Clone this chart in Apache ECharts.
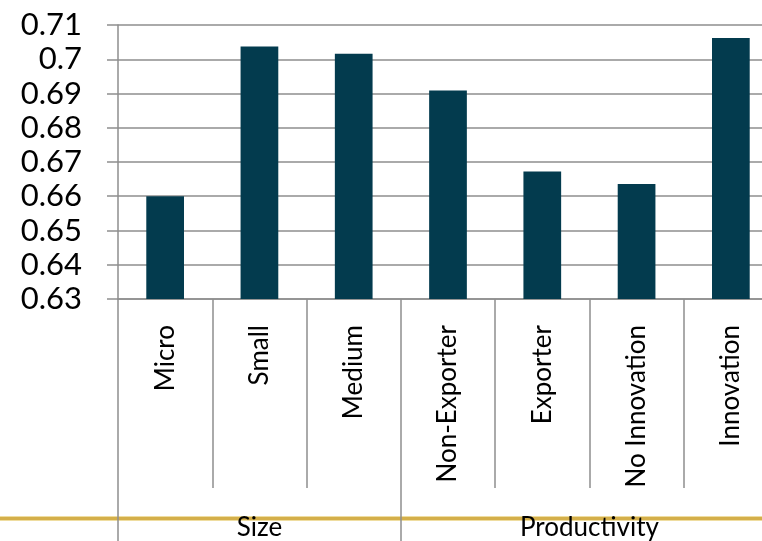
<!DOCTYPE html>
<html>
<head>
<meta charset="utf-8">
<script src="https://cdn.jsdelivr.net/npm/echarts@6/dist/echarts.min.js"></script>
<style>
  html, body { margin: 0; padding: 0; background: #ffffff; }
  #chart { width: 762px; height: 541px; }
</style>
</head>
<body>
<div id="chart"></div>
<script>
// Categories (bottom level) and their groups (top level)
const categories = ['Micro', 'Small', 'Medium', 'Non-Exporter', 'Exporter', 'No Innovation', 'Innovation'];
const values = [0.660, 0.7037, 0.7016, 0.6909, 0.6672, 0.6636, 0.7062];
const groupNames = ['Size', 'Productivity'];
const groupSizes = [3, 4];
const yTicks = { min: 0.63, max: 0.71, step: 0.01 };

// Group boundaries and centres in category units
const groupEdges = [0];
const groupCentres = [];
groupSizes.forEach(function (n, i) {
  groupCentres.push(groupEdges[i] + n / 2);
  groupEdges.push(groupEdges[i] + n);
});

const FONT = 'Lato';
const GRID_COLOR = '#8E8E8E';
const BAR_COLOR = '#033B4E';

const chart = echarts.init(document.getElementById('chart'), null, { renderer: 'canvas' });

chart.setOption({
  animation: false,
  backgroundColor: '#ffffff',
  grid: {
    left: 118,
    top: 25,
    width: 660,
    height: 274,
    containLabel: false,
    outerBoundsMode: 'none'
  },
  xAxis: [
    {
      type: 'category',
      data: categories,
      position: 'bottom',
      z: 5,
      axisLine: { show: true, lineStyle: { color: GRID_COLOR, width: 1.5 } },
      axisTick: { show: true, interval: 0, length: 189, lineStyle: { color: GRID_COLOR, width: 1.5 } },
      axisLabel: {
        interval: 0,
        rotate: 90,
        margin: 26,
        color: '#000000',
        fontFamily: FONT,
        fontSize: 26
      },
      splitLine: { show: false }
    },
    {
      type: 'value',
      min: 0,
      max: categories.length,
      position: 'bottom',
      gridIndex: 0,
      z: 5,
      axisLine: { show: false },
      axisTick: {
        show: true,
        length: 242,
        customValues: groupEdges,
        lineStyle: { color: GRID_COLOR, width: 1.5 }
      },
      axisLabel: {
        show: true,
        customValues: groupCentres,
        margin: 216,
        color: '#000000',
        fontFamily: FONT,
        fontSize: 26,
        verticalAlign: 'top',
        formatter: function (v) {
          const i = groupCentres.indexOf(v);
          return i >= 0 ? groupNames[i] : '';
        }
      },
      splitLine: { show: false }
    }
  ],
  yAxis: {
    type: 'value',
    min: yTicks.min,
    max: yTicks.max,
    interval: yTicks.step,
    z: 5,
    axisLine: { show: true, lineStyle: { color: GRID_COLOR, width: 1.5 } },
    axisTick: { show: true, length: 11, lineStyle: { color: GRID_COLOR, width: 1.5 } },
    axisLabel: {
      margin: 36,
      color: '#000000',
      fontFamily: FONT,
      fontSize: 31,
      formatter: function (v) { return String(Math.round(v * 100) / 100); }
    },
    splitLine: { show: true, lineStyle: { color: GRID_COLOR, width: 1.5 } }
  },
  graphic: [
    { type: 'rect', z: -10, shape: { x: 0, y: 516, width: 762, height: 5 }, style: { fill: '#EFDDA0' } },
    { type: 'rect', z: -10, shape: { x: 0, y: 517, width: 762, height: 3 }, style: { fill: '#D4AF4A' } }
  ],
  series: [
    {
      type: 'bar',
      xAxisIndex: 0,
      yAxisIndex: 0,
      data: values,
      barWidth: '40%',
      z: 6,
      itemStyle: { color: BAR_COLOR }
    }
  ]
});
</script>
</body>
</html>
